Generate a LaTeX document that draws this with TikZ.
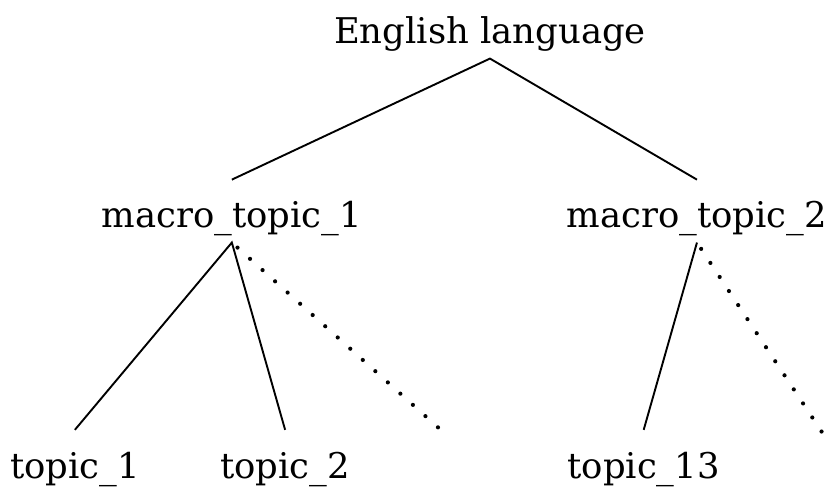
\documentclass[tikz,border=0pt]{standalone}
\usepackage{fontspec}
\setmainfont{DejaVu Serif}
\usepackage{tikz}
\usetikzlibrary{positioning}
\tikzset{
	lbl/.style={anchor=base,inner sep=0pt,text height=1.333cm,text depth=0.4cm,font=\fontsize{28}{34}\selectfont},
	branch/.style={line width=1.5pt},
	more/.style={line width=3.3pt,line cap=round,dash pattern=on 0pt off 13.3pt,dash phase=-6pt}
}
\begin{document}
\begin{tikzpicture}
	\useasboundingbox (0,0) rectangle (23,-13.5);
	\node[lbl] (eng) at (13.61,-1.22) {English language};
	\node[lbl] (mac1) at (6.44,-6.33) {macro\_topic\_1};
	\node[lbl] (mac2) at (19.36,-6.33) {macro\_topic\_2};
	\node[lbl] (top1) at (2.08,-13.28) {topic\_1};
	\node[lbl] (top2) at (7.92,-13.28) {topic\_2};
	\node[lbl] (top13) at (17.88,-13.28) {topic\_13};
	\node[coordinate] (more1) at (12.31,-12) {};
	\node[coordinate] (more2) at (22.83,-12) {};
	
	\draw[branch] (mac1.north) -- (eng.south) -- (mac2.north);
	\draw[branch] (top1.north) -- (mac1.south) -- (top2.north);
	\draw[branch] (mac2.south) -- (top13.north);
	\draw[more] (mac1.south) -- (more1);
	\draw[more] (mac2.south) -- (more2);
\end{tikzpicture}
\end{document}
